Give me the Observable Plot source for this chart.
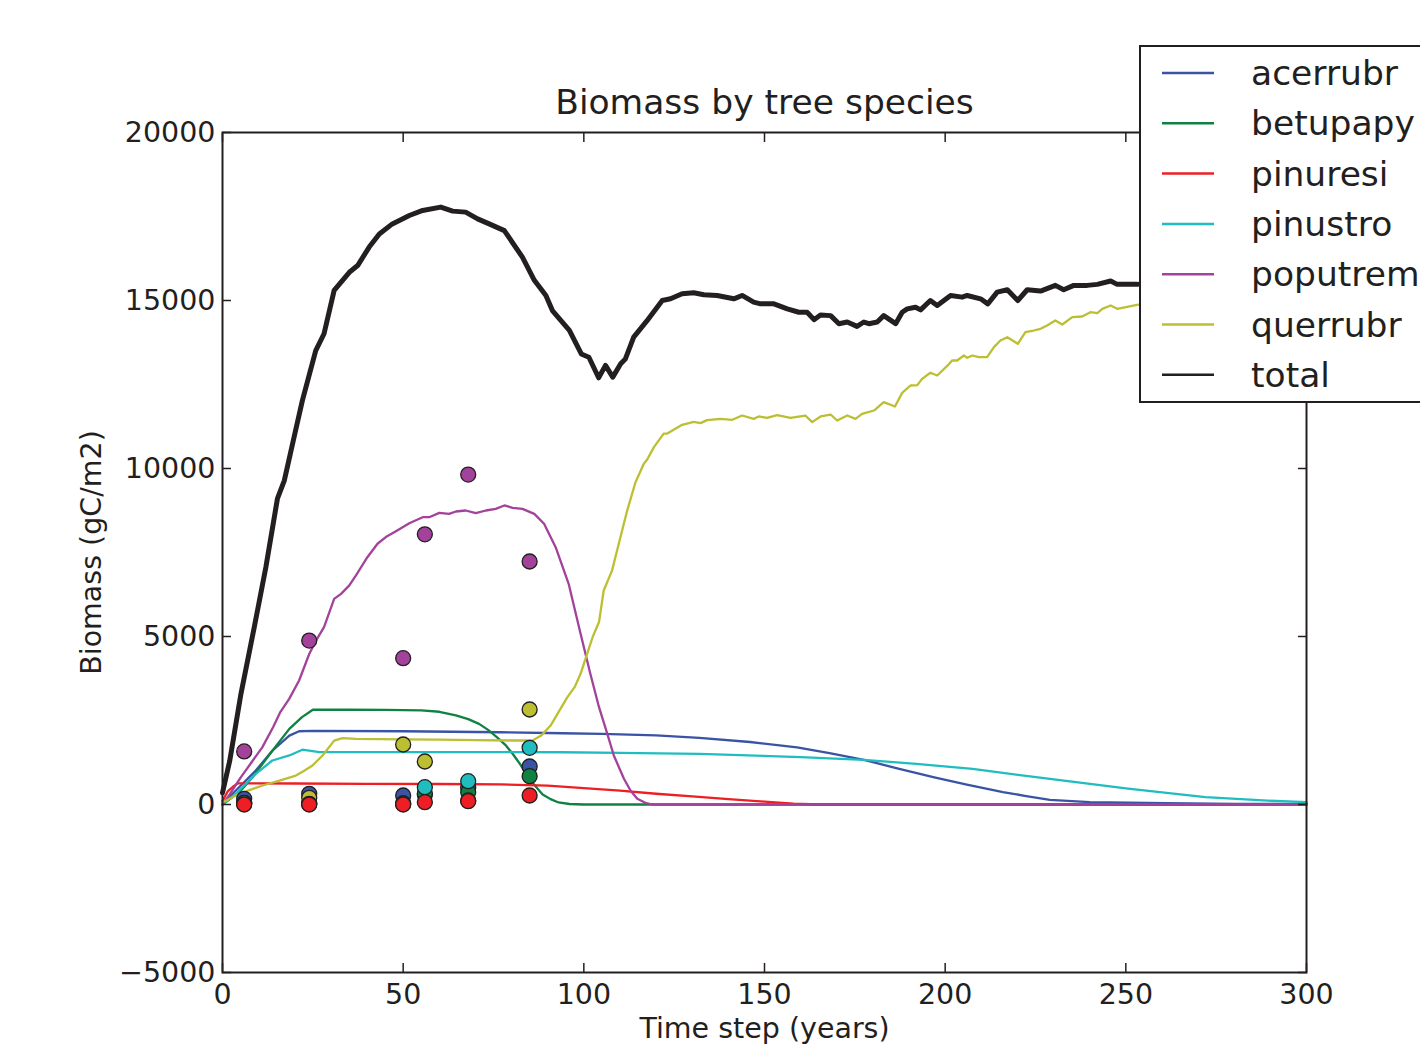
<!DOCTYPE html>
<html>
<head>
<meta charset="utf-8">
<script src="https://cdn.jsdelivr.net/npm/d3@7"></script>
<script src="https://cdn.jsdelivr.net/npm/@observablehq/plot@0.6"></script>
<style>
html, body { margin: 0; padding: 0; background: #fff; overflow: hidden; }
#wrap { position: relative; width: 1420px; height: 1059px; font-family: "DejaVu Sans"; color: #231f20; }
#legend { position: absolute; left: 1139px; top: 45px; }
</style>
</head>
<body>
<div id="wrap"></div>
<script>
// ---------- data ----------
const species = ["acerrubr", "betupapy", "pinuresi", "pinustro", "poputrem", "querrubr", "total"];
const colors  = ["#3a53a4", "#0f8242", "#ed1f24", "#1fbdbf", "#a3429b", "#bcbf32", "#231f20"];

const acerrubr = [[0,0],[2.8,320],[9.2,1010],[13.8,1600],[18.5,2050],[21.2,2180],[25,2190],[50,2180],[77,2150],[94,2120],[105,2100],[120,2060],[132,1980],[146,1860],[159,1700],[168,1530],[177.5,1330],[187,1070],[197,810],[206,590],[216,370],[222,260],[229,140],[240,70],[261,40],[280,20],[300,10]];
const betupapy = [[0,0],[5,400],[8.3,810],[13.8,1600],[18.5,2250],[22,2600],[25,2820],[35,2820],[45,2815],[55,2800],[60,2760],[64.6,2650],[68,2540],[71,2400],[73.5,2220],[76,2000],[78.5,1750],[80.5,1480],[82.5,1180],[84.5,820],[86.5,560],[88.6,300],[90.8,160],[93,60],[96,15],[100,0],[300,0]];
const pinuresi = [[0,100],[1.5,400],[2.8,520],[4.2,630],[20,625],[40,615],[60,610],[77,600],[90,560],[100,490],[110,410],[120,320],[130,240],[140,160],[150,85],[158,25],[165,0],[300,0]];
const pinustro = [[0,0],[3.7,320],[9.2,910],[13.8,1310],[18.5,1460],[22.1,1630],[26.8,1560],[37,1560],[77,1560],[94,1555],[110,1535],[132,1505],[160,1410],[177.5,1330],[192,1210],[207.6,1060],[229,760],[250.6,470],[272,220],[288,120],[300,70]];
const poputrem = [[0,0],[2,300],[5,800],[8,1250],[11,1700],[14,2300],[16,2750],[18.5,3150],[21.2,3690],[24,4480],[26,4900],[28.1,5280],[30.9,6120],[32.8,6270],[35.1,6520],[36.9,6815],[40.1,7360],[42.9,7760],[45.2,7960],[48,8135],[51.7,8370],[55.4,8550],[57.2,8550],[60,8680],[62.7,8650],[64.6,8720],[67.3,8750],[70.1,8670],[72.9,8750],[75.6,8800],[78,8900],[80.3,8830],[83,8800],[86.3,8650],[89,8354],[92.2,7658],[95.8,6568],[99.1,5079],[101.8,3889],[104.2,2896],[106.5,2104],[108.3,1458],[111.1,765],[113,400],[114.8,170],[117,50],[118.9,0],[300,0]];
const querrubr = [[0,60],[4.6,320],[11.1,565],[16,720],[20.3,860],[22.5,1000],[24.9,1160],[27.7,1460],[30.9,1900],[33.2,1975],[36.9,1955],[50,1940],[60,1930],[70,1915],[80,1905],[85.8,1905],[88.2,2050],[90.8,2350],[93,2750],[95.4,3190],[97.5,3500],[99.1,3890],[100.9,4480],[102.5,5000],[104.2,5430],[105.5,6370],[107.8,6960],[109.2,7560],[112,8750],[114.3,9590],[116.6,10140],[117.5,10260],[119.4,10635],[122.1,11040],[123.1,11040],[127.2,11300],[130.4,11390],[132.3,11350],[134.1,11440],[137.8,11478],[141.1,11449],[143.8,11577],[147,11478],[148.4,11548],[150.7,11508],[153.5,11590],[157.2,11508],[161.3,11577],[163.2,11379],[165.5,11548],[168.3,11607],[170.1,11429],[172.9,11577],[175.2,11478],[177,11627],[180.3,11726],[183,11974],[186.1,11845],[188.1,12250],[190.4,12470],[192.3,12480],[193.6,12669],[195.9,12850],[197.8,12768],[201,13100],[201.9,13214],[203.3,13214],[205.2,13363],[206.1,13294],[207.5,13363],[209.3,13313],[211.6,13313],[213.5,13611],[215.3,13810],[217.2,13908],[220.1,13711],[222.2,14057],[224.5,14107],[226.4,14157],[228.2,14256],[230.5,14405],[232.4,14286],[235.2,14504],[237.9,14524],[240.2,14652],[242.1,14623],[243.5,14752],[245.8,14851],[247.6,14752],[253.1,14871],[260,14950],[270,15050],[280,15100],[290,15150],[300,15200]];
const total = [[0,350],[2,1300],[5.1,3290],[8.8,5280],[12,7060],[15.2,9100],[17.1,9640],[19.8,10930],[22.1,12020],[25.8,13510],[28.1,14010],[30.9,15300],[35.1,15840],[37.4,16040],[40.6,16590],[43.4,16980],[47,17280],[51.7,17530],[55.4,17680],[60.4,17780],[63.7,17660],[67.3,17630],[70.6,17430],[73.8,17280],[78,17080],[83,16290],[86.3,15600],[89.5,15150],[91.3,14700],[96,14110],[99.3,13410],[101.4,13310],[104.1,12700],[106,13070],[108,12720],[110.2,13120],[111.5,13260],[113.8,13910],[117.5,14400],[121.7,15000],[124,15050],[127.2,15200],[130.4,15230],[133.2,15170],[136.9,15150],[141.5,15050],[143.8,15150],[147,14950],[148.9,14900],[152.6,14900],[156.3,14750],[159.5,14650],[161.8,14650],[163.7,14430],[165.5,14570],[168.3,14550],[170.6,14310],[172.9,14360],[175.6,14230],[177.5,14360],[178.9,14310],[181.2,14360],[183,14550],[186.3,14310],[188.1,14650],[189.5,14750],[191.8,14800],[193.2,14720],[195.9,15000],[197.8,14850],[201.5,15150],[204.7,15100],[206.1,15150],[209.8,15050],[211.8,14900],[214.4,15250],[217.2,15320],[220.1,15000],[222.7,15320],[226.4,15280],[230.5,15450],[232.8,15320],[235.6,15450],[239.3,15450],[242.1,15480],[245.8,15580],[247.6,15480],[253.1,15480],[260,15550],[270,15600],[280,15650],[290,15700],[300,15750]];

// observed biomass (points)
const obsYears     = [6, 24, 50, 56, 68, 85];
const obs_acerrubr = [170, 318, 268, 300, 500, 1131];
const obs_betupapy = [50, 20, 30, 330, 366, 843];
const obs_poputrem = [1580, 4880, 4355, 8040, 9820, 7232];
const obs_querrubr = [30, 200, 1786, 1280, 120, 2827];
const obs_pinustro = [40, 20, 30, 515, 694, 1687];
const obs_pinuresi = [0, 0, 0, 70, 98, 268];

const xTicks = [0, 50, 100, 150, 200, 250, 300];
const yTicks = [-5000, 0, 5000, 10000, 15000, 20000];

const titleText = "Biomass by tree species";
const xLabel = "Time step (years)";
const yLabel = "Biomass (gC/m2)";

// ---------- build tables ----------
const seriesArrays = {acerrubr, betupapy, pinuresi, pinustro, poputrem, querrubr, total};
const colorOf = Object.fromEntries(species.map((s, i) => [s, colors[i]]));
const toRows = (name) => seriesArrays[name].map(([year, value]) => ({species: name, year, value}));

const obsSeries = {acerrubr: obs_acerrubr, betupapy: obs_betupapy, poputrem: obs_poputrem,
                   querrubr: obs_querrubr, pinustro: obs_pinustro, pinuresi: obs_pinuresi};
const obsOrder = ["acerrubr", "betupapy", "poputrem", "querrubr", "pinustro", "pinuresi"];
const obsRows = [];
for (const s of obsOrder) obsSeries[s].forEach((v, i) => obsRows.push({species: s, year: obsYears[i], value: v}));

const fmt = d => d < 0 ? "\u2212" + Math.abs(d) : String(d);
const ink = "#231f20";

const lineMarks = species.map(s => Plot.line(toRows(s), {
  x: "year", y: "value", stroke: colorOf[s],
  strokeWidth: s === "total" ? 5 : 2.3, strokeLinejoin: "round"
}));

const chart = Plot.plot({
  width: 1420, height: 1059,
  marginLeft: 222, marginRight: 114, marginTop: 132, marginBottom: 87,
  style: {fontFamily: "DejaVu Sans", fontSize: "28.5px", color: ink, background: "#fff", overflow: "visible"},
  x: {domain: [0, 300]},
  y: {domain: [-5000, 20000]},
  marks: [
    ...lineMarks,
    Plot.dot(obsRows, {x: "year", y: "value", r: 7.5, fill: d => colorOf[d.species], stroke: ink, strokeWidth: 1.3}),
    Plot.frame({stroke: ink, strokeWidth: 2}),
    Plot.axisY(yTicks, {anchor: "left", tickSize: 0, tickPadding: 7, tickFormat: fmt, fontSize: 28.5, label: null}),
    Plot.axisY(yTicks, {anchor: "left", tickSize: -9, tickFormat: () => "", label: null, stroke: ink, strokeWidth: 1.5}),
    Plot.axisY(yTicks, {anchor: "right", tickSize: -9, tickFormat: () => "", label: null, stroke: ink, strokeWidth: 1.5}),
    Plot.axisX(xTicks, {anchor: "bottom", tickSize: 0, tickPadding: 11, tickFormat: fmt, fontSize: 28.5, label: null}),
    Plot.axisX(xTicks, {anchor: "bottom", tickSize: -9, tickFormat: () => "", label: null, stroke: ink, strokeWidth: 1.5}),
    Plot.axisX(xTicks, {anchor: "top", tickSize: -9, tickFormat: () => "", label: null, stroke: ink, strokeWidth: 1.5}),
    Plot.text([titleText], {text: d => d, frameAnchor: "top", lineAnchor: "middle", dy: -30, fontSize: 34.5, fill: ink}),
    Plot.text([xLabel], {text: d => d, frameAnchor: "bottom", lineAnchor: "middle", dy: 56, fontSize: 28.5, fill: ink}),
    Plot.text([yLabel], {text: d => d, frameAnchor: "left", textAnchor: "middle", lineAnchor: "middle", dx: -131, rotate: -90, fontSize: 28.5, fill: ink})
  ]
});

const wrap = document.getElementById("wrap");
wrap.appendChild(chart);

// ---------- legend ----------
const legend = d3.select(wrap).append("svg")
  .attr("id", "legend")
  .attr("width", 300).attr("height", 360)
  .style("font-family", "DejaVu Sans");
legend.append("rect").attr("x", 1).attr("y", 1).attr("width", 320).attr("height", 356)
  .attr("fill", "#fff").attr("stroke", ink).attr("stroke-width", 2);
species.forEach((s, i) => {
  const cy = 28 + i * 50.3;
  legend.append("line").attr("x1", 23).attr("x2", 75).attr("y1", cy).attr("y2", cy)
    .attr("stroke", colorOf[s]).attr("stroke-width", 2.5);
  legend.append("text").attr("x", 112).attr("y", cy).attr("dy", "0.35em")
    .attr("font-size", 34.5).attr("fill", ink).text(s);
});
</script>
</body>
</html>
